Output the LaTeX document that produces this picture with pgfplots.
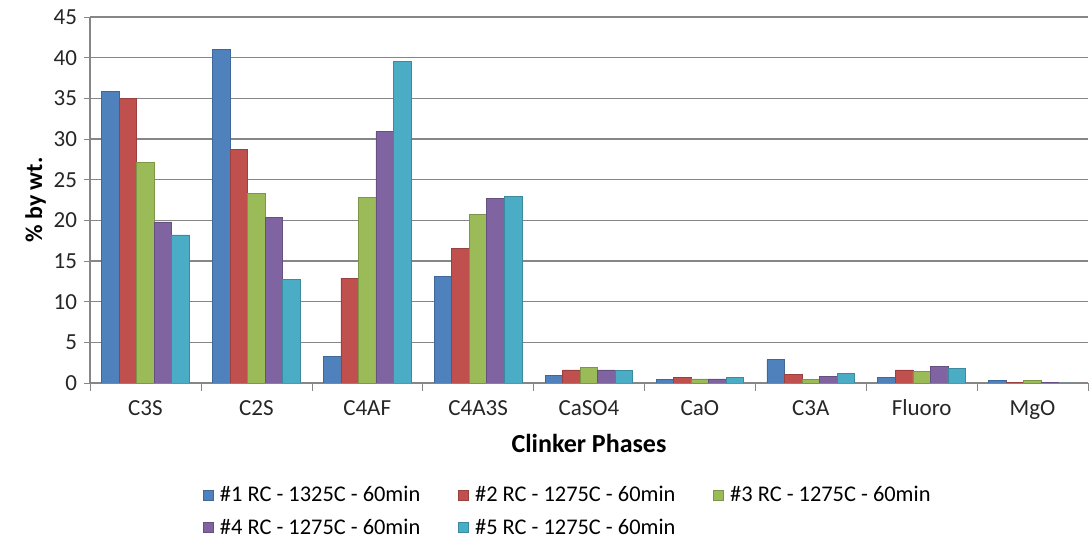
\documentclass[border=0pt]{standalone}
\usepackage{pgfplots}
\pgfplotsset{compat=1.18}
\usepackage{fontspec}
\setmainfont{Carlito}

\definecolor{sA}{HTML}{4F81BD}
\definecolor{sB}{HTML}{C0504D}
\definecolor{sC}{HTML}{9BBB59}
\definecolor{sD}{HTML}{8064A2}
\definecolor{sE}{HTML}{4BACC6}
\definecolor{axgray}{HTML}{868686}

\begin{document}
\begin{tikzpicture}
\path[use as bounding box] (0,0) rectangle (544.5pt,270.5pt);
\begin{axis}[
  at={(45pt,79pt)}, anchor=south west,
  scale only axis, width=499pt, height=183pt,
  ybar=0pt, bar width=0.158,
  xmin=-0.5, xmax=8.5, ymin=0, ymax=45,
  xtick={0,...,8},
  xticklabels={C3S,C2S,C4AF,C4A3S,CaSO4,CaO,C3A,Fluoro,MgO},
  minor xtick={-0.5,0.5,...,8.5},
  major x tick style={draw=none},
  minor x tick style={axgray},
  minor tick length=4pt,
  ytick={0,5,...,45},
  y tick style={axgray},
  major tick length=3pt,
  tick align=outside,
  axis x line*=bottom, axis y line*=left,
  axis line style={axgray, line width=0.6pt},
  ymajorgrids, grid style={axgray, line width=0.6pt},
  tick label style={font=\fontsize{11.5}{13}\selectfont, text=black!85},
  /pgf/number format/assume math mode=true,
  xticklabel style={yshift=-2pt, text height=1.6ex, text depth=0.3ex},
  xlabel={\bfseries Clinker Phases},
  xlabel style={font=\fontsize{13}{15}\selectfont, yshift=-1pt},
  ylabel={\bfseries \% by wt.},
  ylabel style={font=\fontsize{12}{14}\selectfont, yshift=-3pt},
  legend columns=3,
  legend style={at={(0.113,-0.27)}, anchor=north west, draw=none,
    inner sep=0pt,
    font=\fontsize{11.2}{13}\selectfont,
    /tikz/every even column/.append style={column sep=17pt},
    /tikz/every odd column/.append style={column sep=1pt},
    row sep=3pt},
  legend image code/.code={\fill[#1] (0pt,-2.5pt) rectangle (5pt,2.5pt);},
]
\addplot[fill=sA, draw=sA!80!black] coordinates {(0,35.8) (1,41.0) (2,3.3) (3,13.1) (4,0.9) (5,0.4) (6,2.85) (7,0.7) (8,0.3)};
\addplot[fill=sB, draw=sB!80!black] coordinates {(0,35.0) (1,28.7) (2,12.9) (3,16.5) (4,1.6) (5,0.7) (6,1.1) (7,1.6) (8,0.1)};
\addplot[fill=sC, draw=sC!80!black] coordinates {(0,27.1) (1,23.3) (2,22.8) (3,20.7) (4,1.9) (5,0.5) (6,0.4) (7,1.4) (8,0.3)};
\addplot[fill=sD, draw=sD!80!black] coordinates {(0,19.8) (1,20.4) (2,30.9) (3,22.7) (4,1.6) (5,0.5) (6,0.8) (7,2.05) (8,0.1)};
\addplot[fill=sE, draw=sE!80!black] coordinates {(0,18.2) (1,12.7) (2,39.5) (3,22.9) (4,1.5) (5,0.65) (6,1.2) (7,1.75) (8,0.0)};
\legend{\#1 RC - 1325C - 60min,\#2 RC - 1275C - 60min,\#3 RC - 1275C - 60min,\#4 RC - 1275C - 60min,\#5 RC - 1275C - 60min}
\end{axis}
\end{tikzpicture}
\end{document}
